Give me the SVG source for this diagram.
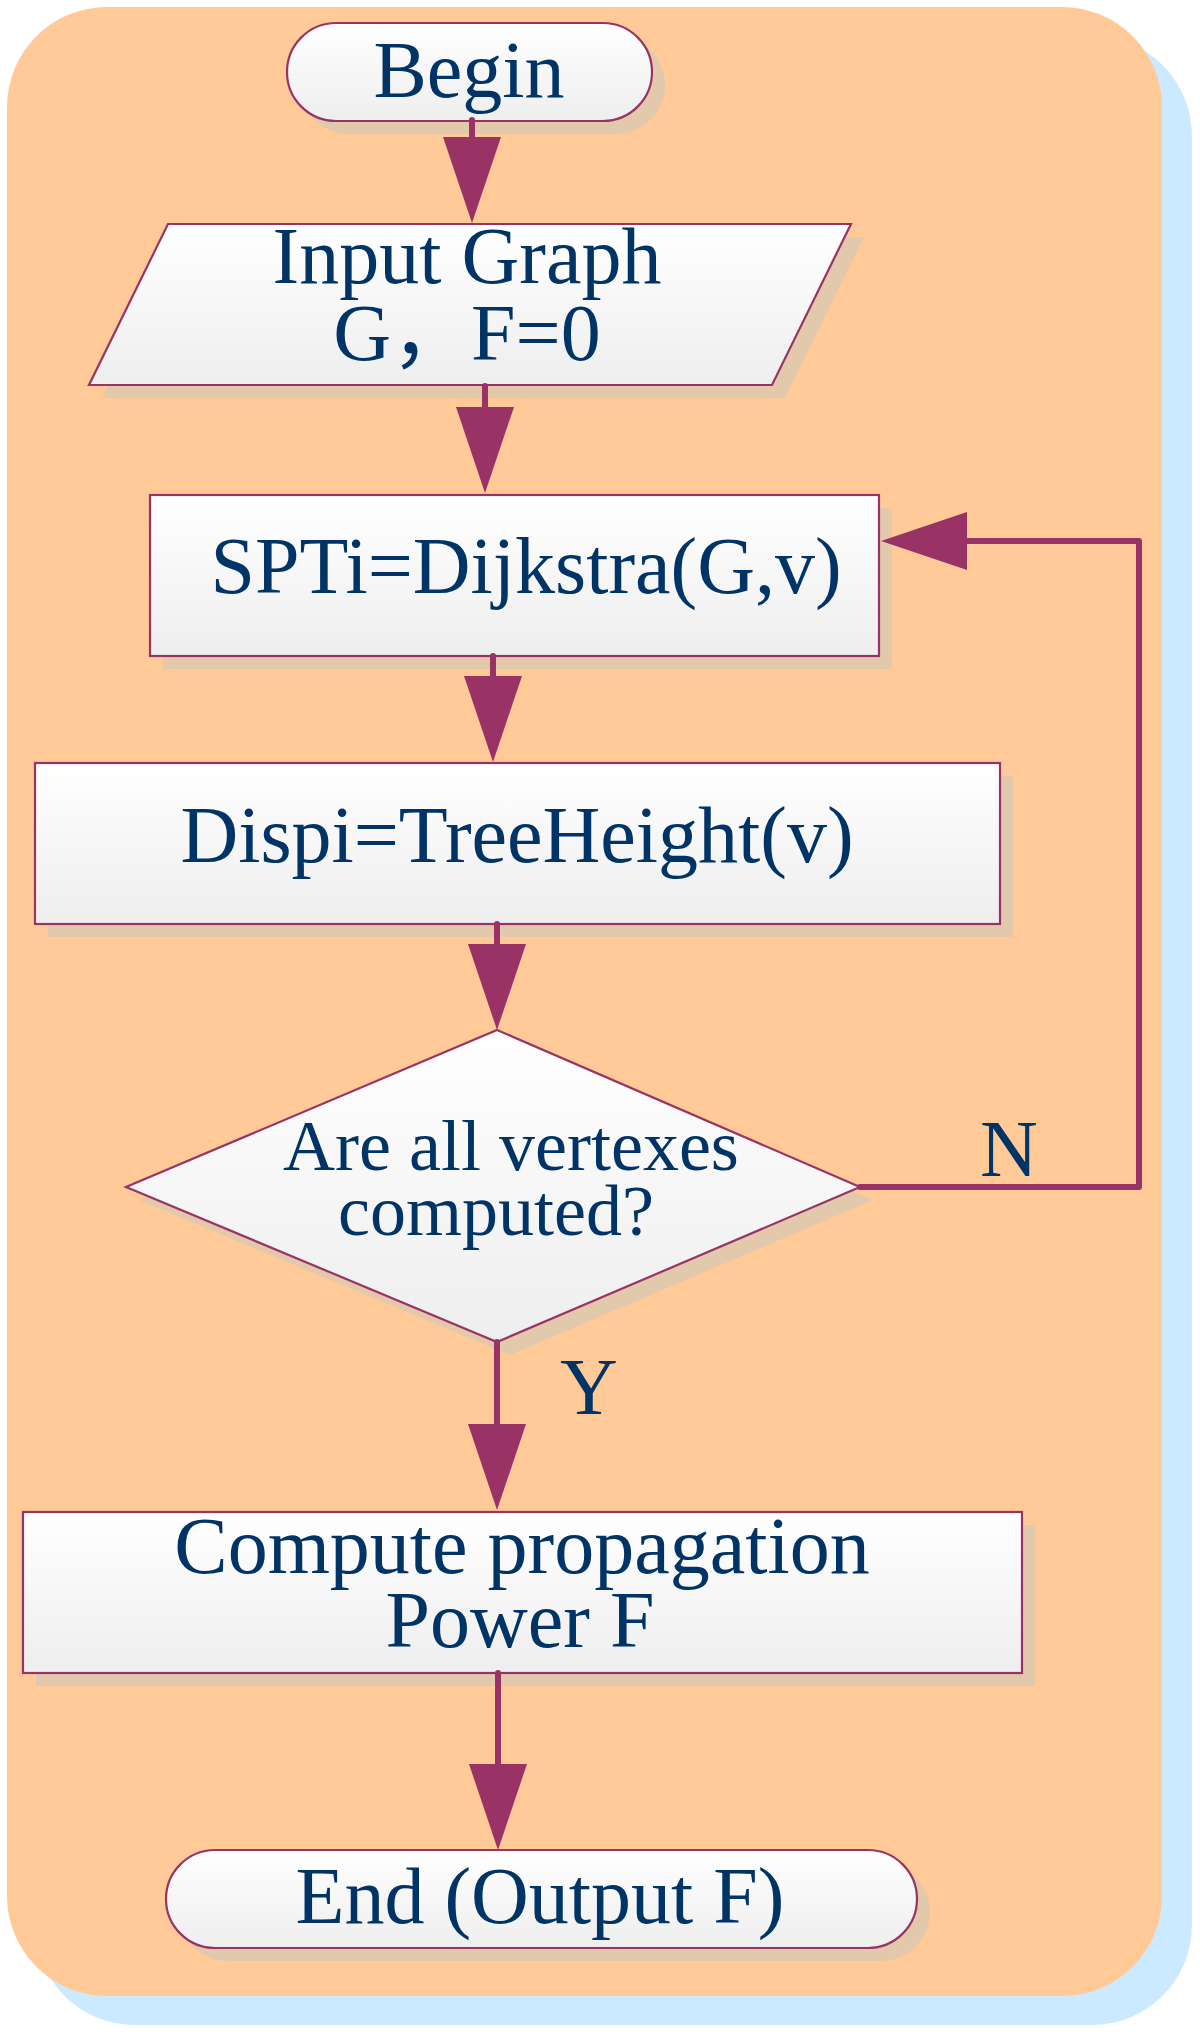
<svg xmlns="http://www.w3.org/2000/svg" width="1200" height="2032" viewBox="0 0 1200 2032">
  <defs>
    <linearGradient id="fillg" x1="0" y1="0" x2="0" y2="1">
      <stop offset="0" stop-color="#ffffff"/>
      <stop offset="1" stop-color="#eeeeee"/>
    </linearGradient>
    <marker id="ah" markerUnits="userSpaceOnUse" markerWidth="86" markerHeight="58" viewBox="0 0 86 58" refX="0" refY="29" orient="auto" overflow="visible">
      <path d="M0,0 L86,29 L0,58 Z" fill="#993366"/>
    </marker>
    <style>
      .shadow { fill: #e2c9ab; }
      .node { fill: url(#fillg); stroke: #993366; stroke-width: 2.2; }
      .lbl { font-family: "Liberation Serif", "Times New Roman", "Noto Sans CJK SC", serif; font-size: 80px; fill: #003366; text-anchor: middle; }
      .dlbl { font-size: 72px; }
      .conn { fill: none; stroke: #993366; stroke-width: 6; stroke-linecap: round; stroke-linejoin: round; }
    </style>
  </defs>

  <g id="background">
    <rect x="35" y="36" width="1157" height="1989" rx="100" ry="100" fill="#cceaff"/>
    <rect x="7" y="7" width="1155" height="1989" rx="100" ry="100" fill="#ffca98"/>
  </g>

  <g id="begin">
    <rect class="shadow" x="300" y="36" width="365" height="98" rx="49" ry="49"/>
    <rect class="node" x="287" y="23" width="365" height="98" rx="49" ry="49"/>
    <text class="lbl" x="469" y="97">Begin</text>
  </g>

  <g id="input">
    <polygon class="shadow" points="181,237 864,237 785,398 102,398"/>
    <polygon class="node" points="168,224 851,224 772,385 89,385"/>
    <text class="lbl"><tspan x="467" y="283">Input Graph</tspan><tspan x="467" y="360">G，F=0</tspan></text>
  </g>

  <g id="spti">
    <rect class="shadow" x="163" y="508" width="729" height="161"/>
    <rect class="node" x="150" y="495" width="729" height="161"/>
    <text class="lbl" x="526" y="593">SPTi=Dijkstra(G,v)</text>
  </g>

  <g id="dispi">
    <rect class="shadow" x="48" y="776" width="965" height="161"/>
    <rect class="node" x="35" y="763" width="965" height="161"/>
    <text class="lbl" x="517" y="862">Dispi=TreeHeight(v)</text>
  </g>

  <g id="decision">
    <polygon class="shadow" points="510,1043 873,1200 510,1355 139,1200"/>
    <polygon class="node" points="497,1030 860,1187 497,1342 126,1187"/>
    <text class="lbl dlbl"><tspan x="511" y="1170">Are all vertexes</tspan><tspan x="496" y="1235">computed?</tspan></text>
  </g>

  <g id="compute">
    <rect class="shadow" x="36" y="1525" width="999" height="161"/>
    <rect class="node" x="23" y="1512" width="999" height="161"/>
    <text class="lbl"><tspan x="522" y="1573">Compute propagation</tspan><tspan x="520" y="1647">Power F</tspan></text>
  </g>

  <g id="end">
    <rect class="shadow" x="179" y="1863" width="751" height="98" rx="49" ry="49"/>
    <rect class="node" x="166" y="1850" width="751" height="98" rx="49" ry="49"/>
    <text class="lbl" x="540" y="1923">End (Output F)</text>
  </g>

  <g id="connectors">
    <path class="conn" d="M472,120 L472,137" marker-end="url(#ah)"/>
    <path class="conn" d="M485,386 L485,407" marker-end="url(#ah)"/>
    <path class="conn" d="M493,656 L493,676" marker-end="url(#ah)"/>
    <path class="conn" d="M497,924 L497,944" marker-end="url(#ah)"/>
    <path class="conn" d="M497,1342 L497,1424" marker-end="url(#ah)"/>
    <path class="conn" d="M498,1673 L498,1764" marker-end="url(#ah)"/>
    <path class="conn" d="M860,1187 L1139,1187 L1139,541 L967,541" marker-end="url(#ah)"/>
    <text class="lbl" x="1009" y="1176">N</text>
    <text class="lbl" x="589" y="1414">Y</text>
  </g>
</svg>
